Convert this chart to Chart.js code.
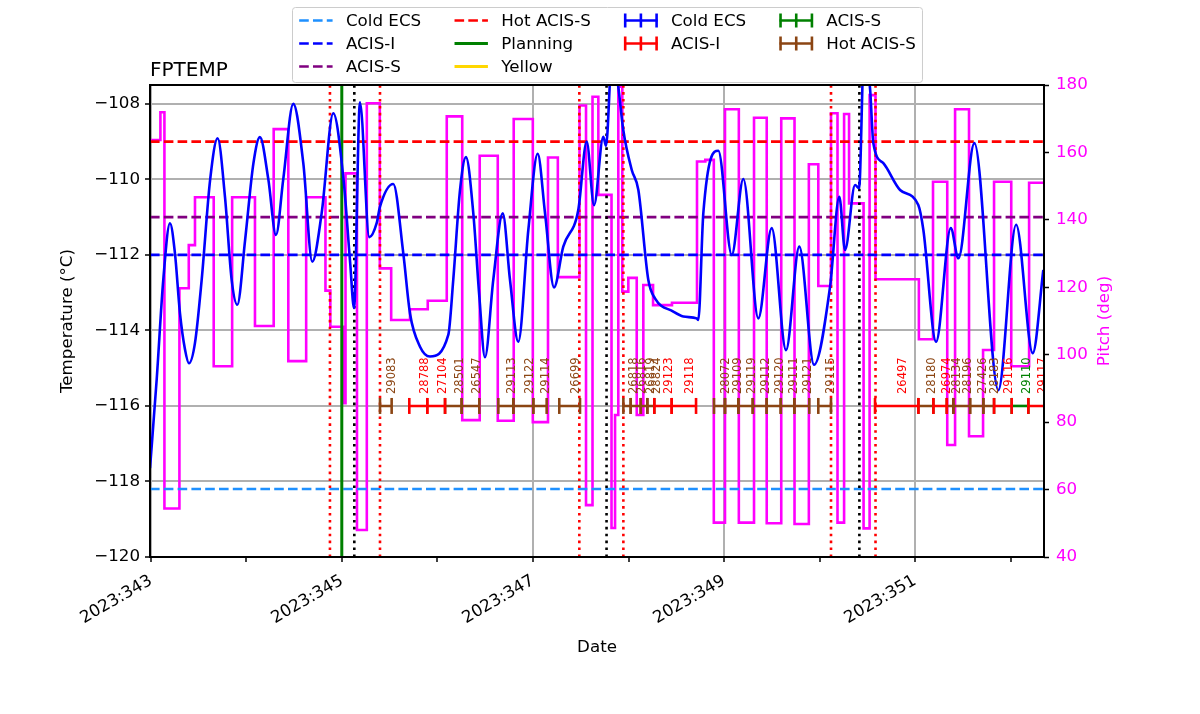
<!DOCTYPE html>
<html>
<head>
<meta charset="utf-8">
<title>FPTEMP</title>
<script src="https://cdn.jsdelivr.net/npm/chart.js@4.4.0/dist/chart.umd.min.js"></script>
<style>
  html, body { margin: 0; padding: 0; background: #fff; }
  #wrap { width: 1200px; height: 714px; }
</style>
</head>
<body>
<div id="wrap"><canvas id="fpChart" width="1200" height="714"></canvas></div>
<script>
// time axis is day of year 2023
const tickDays = [343, 344, 345, 346, 347, 348, 349, 350, 351, 352];
const tempTicks = [-120, -118, -116, -114, -112, -110, -108];
const pitchTicks = [40, 60, 80, 100, 120, 140, 160, 180];

// limit lines (temperature, deg C)
const limitNames = ["Cold ECS", "ACIS-I", "ACIS-S", "Hot ACIS-S"];
const limitValues = [-118.2, -112.0, -111.0, -109.0];

// vertical markers
const planningTimes = [344.998];
const perigeeTimes = [345.129, 347.770, 350.417];
const radzoneTimes = [344.874, 345.398, 347.485, 347.946, 350.120, 350.586];

// FPTEMP model
const tempTimes = [342.990, 343.060, 343.129, 343.199, 343.251, 343.304, 343.356, 343.398, 343.461, 343.531,
  343.620, 343.698, 343.775, 343.845, 343.904, 343.986, 344.073, 344.141, 344.229, 344.309,
  344.385, 344.490, 344.595, 344.689, 344.787, 344.909, 345.016, 345.086, 345.126, 345.188,
  345.286, 345.363, 345.398, 345.537, 345.642, 345.712, 345.817, 345.921, 346.113, 346.165,
  346.236, 346.298, 346.375, 346.438, 346.497, 346.584, 346.683, 346.759, 346.846, 346.951,
  347.049, 347.126, 347.220, 347.317, 347.474, 347.562, 347.639, 347.736, 347.764, 347.830,
  347.893, 347.945, 348.034, 348.103, 348.207, 348.277, 348.469, 348.574, 348.714, 348.731,
  348.783, 348.940, 349.081, 349.202, 349.359, 349.499, 349.649, 349.788, 349.942, 350.110,
  350.207, 350.267, 350.372, 350.414, 350.466, 350.529, 350.563, 350.668, 350.843, 351.034,
  351.087, 351.220, 351.374, 351.454, 351.621, 351.872, 352.058, 352.232, 352.343];
const tempValues = [-117.65, -115.30, -112.66, -111.16, -111.95, -113.55, -114.50, -114.87, -114.33, -112.66,
  -110.00, -108.91, -110.46, -112.66, -113.32, -111.60, -109.57, -108.88, -110.00, -111.47,
  -110.00, -108.00, -109.57, -112.18, -110.90, -108.25, -110.00, -112.22, -113.41, -107.96,
  -111.53, -111.16, -110.72, -110.12, -111.96, -113.55, -114.43, -114.69, -114.12, -112.66,
  -110.28, -109.41, -110.90, -113.10, -114.71, -112.66, -110.90, -112.66, -114.30, -111.34,
  -109.32, -110.90, -112.86, -111.78, -110.81, -109.00, -110.68, -108.87, -109.11, -106.60,
  -107.55, -108.69, -109.75, -110.28, -112.66, -113.15, -113.50, -113.63, -113.68, -113.72,
  -110.90, -109.24, -112.00, -109.99, -113.68, -111.29, -114.52, -111.78, -114.91, -112.84,
  -110.46, -111.87, -110.15, -110.23, -106.60, -107.60, -109.04, -109.57, -110.28, -110.68,
  -111.34, -114.30, -111.29, -112.09, -109.04, -115.58, -111.20, -114.60, -112.40];

// pitch (deg), each value holds until the next time
const pitchTimes = [342.990, 343.099, 343.141, 343.298, 343.396, 343.461, 343.657, 343.850, 344.089, 344.285,
  344.438, 344.625, 344.827, 344.878, 345.016, 345.037, 345.157, 345.260, 345.396, 345.515,
  345.712, 345.898, 346.097, 346.259, 346.442, 346.631, 346.798, 346.998, 347.157, 347.260,
  347.487, 347.555, 347.623, 347.684, 347.822, 347.859, 347.893, 347.935, 347.998, 348.086,
  348.155, 348.257, 348.455, 348.717, 348.804, 348.893, 349.010, 349.155, 349.314, 349.447,
  349.599, 349.738, 349.888, 349.987, 350.120, 350.188, 350.257, 350.309, 350.461, 350.524,
  350.586, 351.040, 351.188, 351.337, 351.419, 351.565, 351.712, 351.827, 352.007, 352.194, 352.350];
const pitchValues = [163.7, 171.9, 54.4, 119.7, 132.5, 146.7, 96.6, 146.7, 108.5, 166.9,
  98.1, 146.7, 119.0, 108.3, 85.6, 153.8, 48.0, 174.6, 125.6, 110.3,
  113.5, 116.0, 170.7, 80.6, 159.0, 80.4, 169.9, 80.0, 158.5, 123.0,
  173.9, 55.4, 176.5, 147.4, 48.6, 82.1, 179.5, 118.7, 122.8, 82.1,
  120.7, 114.7, 115.4, 157.3, 157.8, 50.2, 172.8, 50.2, 170.3, 50.0,
  170.1, 49.8, 156.5, 120.4, 171.6, 50.2, 171.4, 144.9, 48.5, 177.0,
  122.4, 104.6, 151.3, 73.2, 172.8, 75.8, 101.4, 151.3, 96.6, 151.0, 151.0];

// observations
const obsIds = ["29083", "28788", "27104", "28501", "26547", "29113", "29122", "29114", "26699", "26818",
  "26816", "26819", "28824", "29123", "29118", "28072", "29109", "29119", "29112", "29120",
  "29111", "29121", "29115", "26497", "28180", "26974", "28134", "28196", "27426", "28183",
  "29116", "29110", "29117"];
const obsStart = [345.398, 345.705, 345.893, 346.079, 346.253, 346.637, 346.794, 347.003, 347.275, 347.946,
  348.023, 348.128, 348.197, 348.270, 348.452, 348.895, 349.010, 349.150, 349.301, 349.447,
  349.594, 349.736, 349.987, 350.581, 351.035, 351.192, 351.332, 351.401, 351.576, 351.715,
  351.827, 352.012, 352.186];
const obsStop = [345.520, 345.893, 346.079, 346.253, 346.438, 346.794, 347.003, 347.143, 347.492, 348.023,
  348.128, 348.197, 348.270, 348.452, 348.707, 349.010, 349.150, 349.301, 349.447, 349.594,
  349.736, 349.893, 350.120, 351.035, 351.192, 351.332, 351.401, 351.576, 351.715, 351.827,
  352.012, 352.186, 352.361];
const obsType = ["Hot ACIS-S", "ACIS-I", "ACIS-I", "Hot ACIS-S", "Hot ACIS-S", "Hot ACIS-S", "Hot ACIS-S", "Hot ACIS-S", "Hot ACIS-S", "Hot ACIS-S",
  "Hot ACIS-S", "Hot ACIS-S", "Hot ACIS-S", "ACIS-I", "ACIS-I", "Hot ACIS-S", "Hot ACIS-S", "Hot ACIS-S", "Hot ACIS-S", "Hot ACIS-S",
  "Hot ACIS-S", "Hot ACIS-S", "Hot ACIS-S", "ACIS-I", "Hot ACIS-S", "ACIS-I", "Hot ACIS-S", "Hot ACIS-S", "Hot ACIS-S", "Hot ACIS-S",
  "ACIS-I", "ACIS-S", "ACIS-I"];
const obsTypeNames = ["Cold ECS", "ACIS-I", "ACIS-S", "Hot ACIS-S"];
const obsLevel = -116;

const xMin = 342.99, xMax = 352.35;
const tMin = -120, tMax = -107.5;
const pMin = 40, pMax = 180;

// styles
const FONT = '"DejaVu Sans", "Liberation Sans", sans-serif';
const limitColors = ["#1e90ff", "#0000ff", "#800080", "#ff0000"];
const typeColors = {"Cold ECS": "#0000ff", "ACIS-I": "#ff0000", "ACIS-S": "#008000", "Hot ACIS-S": "#8b4513"};
const LW = 2.6;
const DASH = [9.6, 4.2];
const DOT = [2.6, 4.3];

Chart.defaults.font.family = FONT;
Chart.defaults.color = "#000";

function vlinePoints(times) {
  const pts = [];
  times.forEach(t => { pts.push({x: t, y: tMin}, {x: t, y: tMax}, {x: t, y: null}); });
  return pts;
}

function obsPoints(type) {
  const pts = [];
  obsIds.forEach((id, i) => {
    if (obsType[i] !== type) return;
    pts.push({x: obsStart[i], y: obsLevel}, {x: obsStop[i], y: obsLevel}, {x: obsStop[i], y: null});
  });
  return pts;
}

const datasets = [];

// obs bars (top)
obsTypeNames.forEach((name, k) => {
  datasets.push({
    label: name, data: obsPoints(name), yAxisID: "y", order: 0,
    borderColor: typeColors[name], borderWidth: LW, spanGaps: false,
    pointStyle: "line", pointRotation: 90, pointRadius: 8, pointBorderWidth: LW,
    pointBorderColor: typeColors[name], pointBackgroundColor: typeColors[name],
    legendKind: "errorbar", legendIndex: 6 + k
  });
});

// temperature
datasets.push({
  label: "FPTEMP", data: tempTimes.map((t, i) => ({x: t, y: tempValues[i]})),
  yAxisID: "y", order: 1, borderColor: "#0000ff", borderWidth: LW,
  pointRadius: 0, cubicInterpolationMode: "monotone"
});

// vertical markers
datasets.push({
  label: "Planning", data: vlinePoints(planningTimes), yAxisID: "y", order: 2,
  borderColor: "#008000", borderWidth: 3, pointRadius: 0, spanGaps: false,
  legendKind: "solid", legendIndex: 4
});
datasets.push({
  label: "Yellow", data: [], yAxisID: "y", order: 2,
  borderColor: "#ffd700", borderWidth: LW, pointRadius: 0,
  legendKind: "solid", legendIndex: 5
});
datasets.push({
  label: "perigee", data: vlinePoints(perigeeTimes), yAxisID: "y", order: 2,
  borderColor: "#000", borderWidth: LW, borderDash: DOT, pointRadius: 0, spanGaps: false
});
datasets.push({
  label: "radzone", data: vlinePoints(radzoneTimes), yAxisID: "y", order: 2,
  borderColor: "#ff0000", borderWidth: LW, borderDash: DOT, pointRadius: 0, spanGaps: false
});

// limit lines
limitNames.forEach((name, k) => {
  datasets.push({
    label: name, data: [{x: xMin, y: limitValues[k]}, {x: xMax, y: limitValues[k]}],
    yAxisID: "y", order: 3, borderColor: limitColors[k], borderWidth: LW, borderDash: DASH,
    pointRadius: 0, legendKind: "dash", legendIndex: k
  });
});

// pitch (bottom)
datasets.push({
  label: "Pitch", data: pitchTimes.map((t, i) => ({x: t, y: pitchValues[i]})),
  yAxisID: "y2", order: 4, borderColor: "#ff00ff", borderWidth: LW,
  pointRadius: 0, stepped: true
});

const minus = v => String(v).replace("-", "\u2212");

// matplotlib style legend, filled column by column
const legendPlugin = {
  id: "mplLegend",
  afterDraw(chart) {
    const ctx = chart.ctx;
    const items = chart.data.datasets.filter(d => d.legendKind).sort((a, b) => a.legendIndex - b.legendIndex);
    const fs = 16.7, ncol = 4;
    const nrow = Math.ceil(items.length / ncol);
    const nbig = items.length % ncol || ncol;
    const cols = [];
    let idx = 0;
    for (let c = 0; c < ncol; c++) {
      const n = c < nbig ? nrow : nrow - 1;
      cols.push(items.slice(idx, idx + n));
      idx += n;
    }
    ctx.save();
    ctx.font = fs + "px " + FONT;
    const widths = cols.map(col => Math.max(...col.map(d => ctx.measureText(d.label).width)));
    const handle = 2 * fs, pad = 0.8 * fs, colSp = 2 * fs, border = 0.4 * fs;
    const boxW = 2 * border + widths.reduce((s, w) => s + handle + pad + w, 0) + colSp * (ncol - 1);
    const left = 292.5, top = 7.5, boxH = 75;
    ctx.beginPath();
    ctx.roundRect(left, top, boxW, boxH, 3);
    ctx.fillStyle = "rgba(255,255,255,0.8)";
    ctx.fill();
    ctx.strokeStyle = "#cccccc";
    ctx.lineWidth = 1;
    ctx.stroke();
    let cx = left + border;
    cols.forEach((col, c) => {
      col.forEach((d, r) => {
        const y = top + 13 + r * 23;
        ctx.save();
        ctx.strokeStyle = d.borderColor;
        ctx.lineWidth = d.legendKind === "solid" ? 3 : LW;
        if (d.legendKind === "dash") ctx.setLineDash(DASH);
        ctx.beginPath();
        ctx.moveTo(cx, y); ctx.lineTo(cx + handle, y);
        ctx.stroke();
        if (d.legendKind === "errorbar") {
          const mid = cx + handle / 2;
          [cx + 1, mid, cx + handle - 1].forEach(px => {
            ctx.beginPath(); ctx.moveTo(px, y - 7); ctx.lineTo(px, y + 7); ctx.stroke();
          });
        }
        ctx.restore();
        ctx.fillStyle = "#000";
        ctx.textBaseline = "middle";
        ctx.textAlign = "left";
        ctx.fillText(d.label, cx + handle + pad, y + 1);
      });
      cx += handle + pad + widths[c] + colSp;
    });
    ctx.restore();
  }
};

// frame, title, right axis label and observation ids
const decorPlugin = {
  id: "decor",
  afterDatasetsDraw(chart) {
    const {ctx, chartArea: a, scales} = chart;
    ctx.save();
    ctx.beginPath();
    ctx.rect(a.left, a.top, a.right - a.left, a.bottom - a.top);
    ctx.clip();
    ctx.font = "11.5px " + FONT;
    ctx.textAlign = "left";
    ctx.textBaseline = "alphabetic";
    const yBase = scales.y.getPixelForValue(obsLevel) - 12;
    obsIds.forEach((id, i) => {
      const xm = scales.x.getPixelForValue((obsStart[i] + obsStop[i]) / 2);
      ctx.save();
      ctx.translate(xm + 9.5, yBase);
      ctx.rotate(-Math.PI / 2);
      ctx.fillStyle = typeColors[obsType[i]];
      ctx.fillText(id, 0, 0);
      ctx.restore();
    });
    ctx.restore();

    ctx.save();
    ctx.strokeStyle = "#000";
    ctx.lineWidth = 2;
    ctx.strokeRect(a.left, a.top, a.right - a.left, a.bottom - a.top);
    ctx.restore();
  },
  afterDraw(chart) {
    const {ctx, chartArea: a} = chart;
    ctx.save();
    ctx.fillStyle = "#000";
    ctx.font = "20px " + FONT;
    ctx.textAlign = "left";
    ctx.textBaseline = "alphabetic";
    ctx.fillText("FPTEMP", a.left, a.top - 9);
    ctx.font = "16.7px " + FONT;
    ctx.fillStyle = "#ff00ff";
    ctx.translate(a.right + 61, (a.top + a.bottom) / 2);
    ctx.rotate(-Math.PI / 2);
    ctx.textAlign = "center";
    ctx.textBaseline = "middle";
    ctx.fillText("Pitch (deg)", 0, 0);
    ctx.restore();
  }
};

new Chart(document.getElementById("fpChart"), {
  type: "line",
  data: {datasets},
  plugins: [decorPlugin, legendPlugin],
  options: {
    responsive: false,
    devicePixelRatio: 1,
    animation: false,
    parsing: true,
    layout: {padding: {top: 85, left: 0, right: 0, bottom: 0}},
    plugins: {legend: {display: false}, title: {display: false}, tooltip: {enabled: false}},
    scales: {
      x: {
        type: "linear", min: xMin, max: xMax,
        afterBuildTicks: s => { s.ticks = tickDays.map(v => ({value: v})); },
        afterFit: s => { s.height = 157; },
        ticks: {
          autoSkip: false, minRotation: 30, maxRotation: 30, padding: 9,
          font: {size: 16.7}, color: "#000",
          callback: v => (v % 2 === 1 ? "2023:" + v : "")
        },
        grid: {
          color: c => (c.tick && c.tick.value % 2 === 1 ? "#b0b0b0" : "rgba(0,0,0,0)"),
          lineWidth: 2, tickColor: "#000", tickLength: 5, tickWidth: 1.5
        },
        border: {display: false},
        title: {display: true, text: "Date", font: {size: 16.7}, color: "#000", padding: {top: 0, bottom: 56}}
      },
      y: {
        type: "linear", position: "left", min: tMin, max: tMax,
        afterBuildTicks: s => { s.ticks = tempTicks.map(v => ({value: v})); },
        afterFit: s => { s.width = 150; },
        ticks: {font: {size: 16.7}, color: "#000", padding: 5, callback: v => minus(v)},
        grid: {color: "#b0b0b0", lineWidth: 2, tickColor: "#000", tickLength: 5, tickWidth: 1.5},
        border: {display: false},
        title: {display: true, text: "Temperature (\u00b0C)", font: {size: 16.7}, color: "#000", padding: {top: 58, bottom: 0}}
      },
      y2: {
        type: "linear", position: "right", min: pMin, max: pMax,
        afterBuildTicks: s => { s.ticks = pitchTicks.map(v => ({value: v})); },
        afterFit: s => { s.width = 156; },
        ticks: {font: {size: 16.7}, color: "#ff00ff", padding: 7},
        grid: {display: true, drawOnChartArea: false, tickColor: "#000", tickLength: 5, tickWidth: 1.5},
        border: {display: false}
      }
    }
  }
});
</script>
</body>
</html>
